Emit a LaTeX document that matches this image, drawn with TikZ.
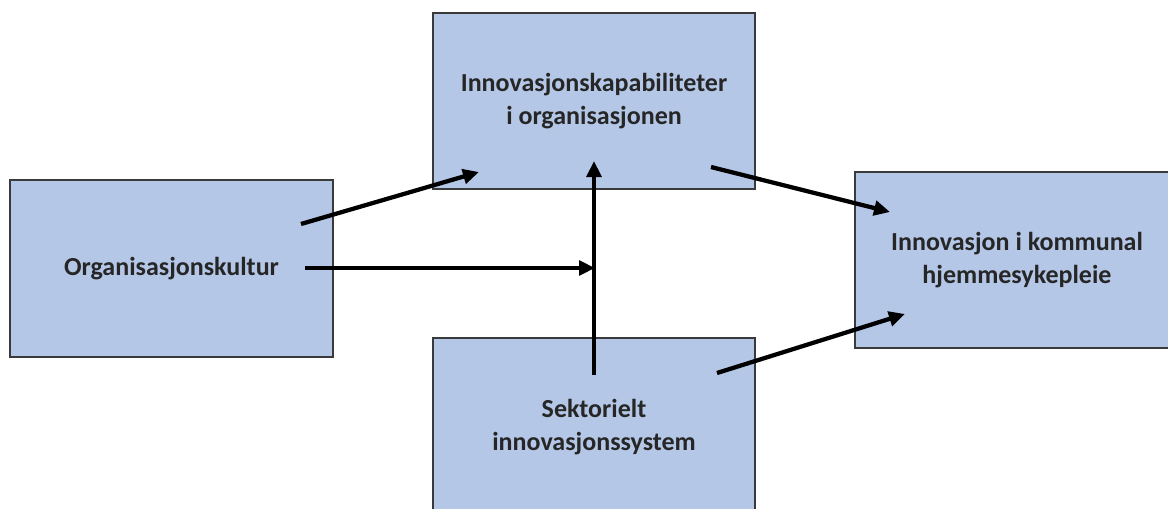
\documentclass[tikz,border=0pt]{standalone}
\usepackage{fontspec}
\setmainfont{Carlito}
\usetikzlibrary{arrows.meta}
\definecolor{boxfill}{HTML}{B4C7E7}
\definecolor{boxline}{HTML}{3A3A3A}
\tikzset{
  box/.style={draw=boxline, line width=0.8pt, fill=boxfill, rectangle, inner sep=0pt,
    align=center, font=\fontsize{19.5}{24.5}\selectfont\bfseries, text=black!85},
  conn/.style={line width=3.2pt, -{Triangle[length=12pt,width=11pt]}, line cap=butt}
}
\begin{document}
\begin{tikzpicture}[x=0.75pt,y=-0.75pt]
\useasboundingbox (0,0) rectangle (1168,508);
\clip (0,0) rectangle (1168,508);
\fill[white] (0,0) rectangle (1168,508);
% boxes
\node[box, minimum width=242.25pt, minimum height=132.75pt] (org) at (171.5,268.5) {Organisasjonskultur};
\node[box, minimum width=241.5pt, minimum height=132pt] (cap) at (594,101) {Innovasjonskapabiliteter\\i organisasjonen};
\node[box, minimum width=241.5pt, minimum height=133.5pt] (sek) at (594,427) {Sektorielt\\innovasjonssystem};
\node[box, minimum width=243pt, minimum height=132pt] (inn) at (1017,260) {Innovasjon i kommunal\\hjemmesykepleie};
% connector end points
\coordinate (a1s) at (301,224);
\coordinate (a1e) at (479,172);
\coordinate (a2s) at (305,268);
\coordinate (a2e) at (595,268);
\coordinate (a3s) at (594,375);
\coordinate (a3e) at (594,161);
\coordinate (a4s) at (711,167);
\coordinate (a4e) at (890,212);
\coordinate (a5s) at (717,373);
\coordinate (a5e) at (905,314);
\draw[conn] (a1s) -- (a1e);
\draw[conn] (a2s) -- (a2e);
\draw[conn] (a3s) -- (a3e);
\draw[conn] (a4s) -- (a4e);
\draw[conn] (a5s) -- (a5e);
\end{tikzpicture}
\end{document}
